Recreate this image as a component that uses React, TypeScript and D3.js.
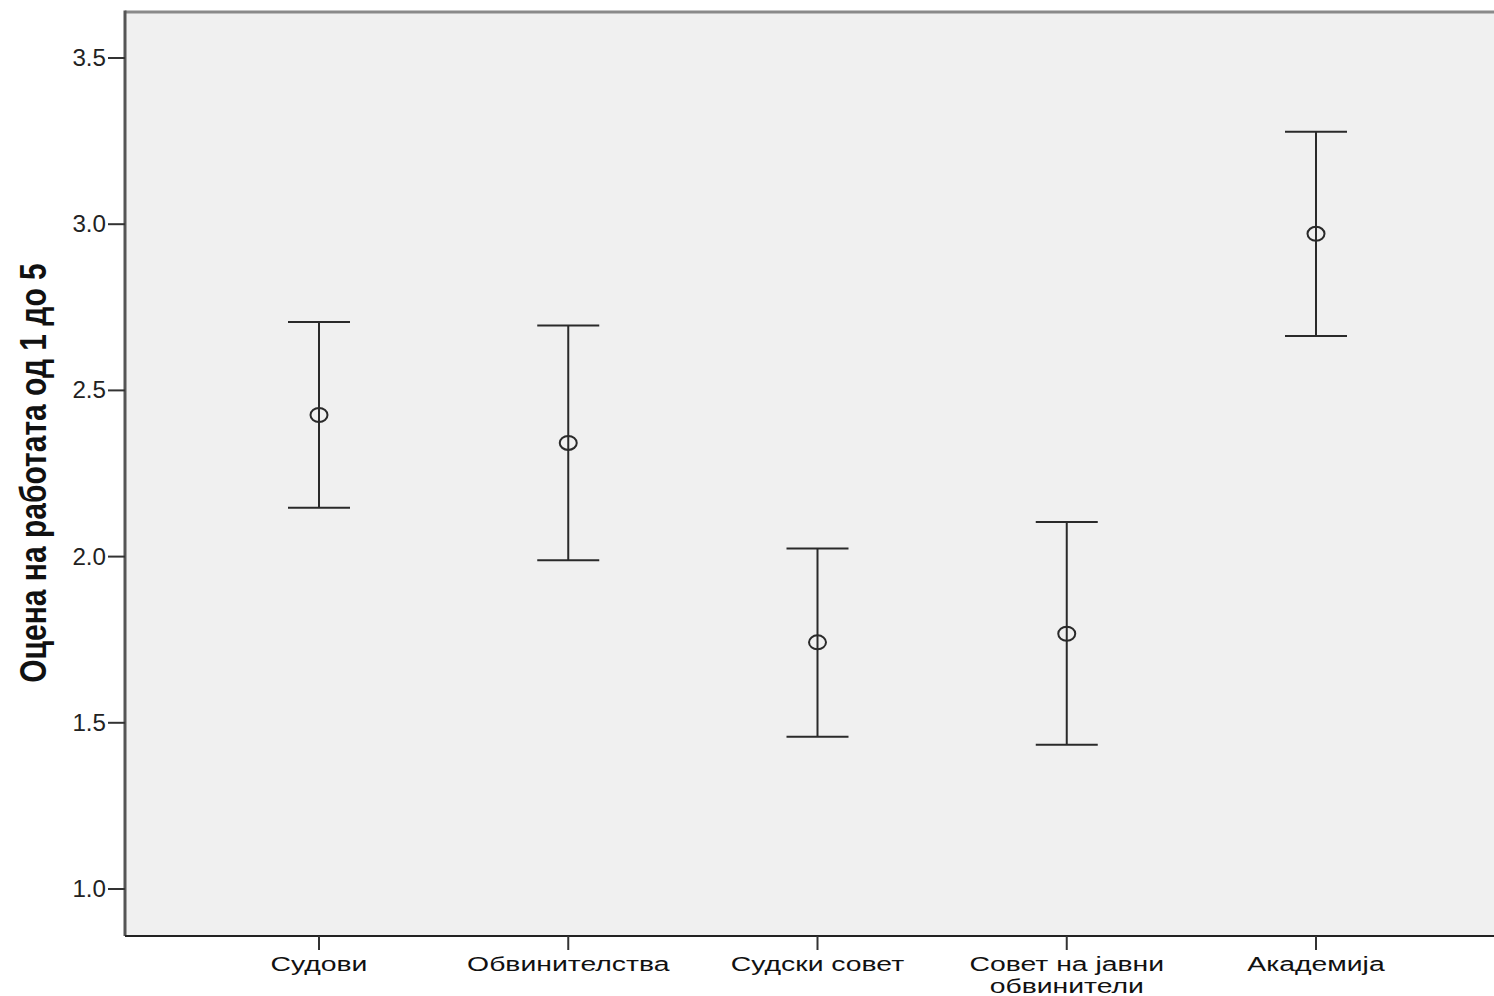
import React from "react";
import * as d3 from "d3";

const categories = ["Судови", "Обвинителства", "Судски совет", "Совет на јавни обвинители", "Академија"];
const categoryLines = [["Судови"], ["Обвинителства"], ["Судски совет"], ["Совет на јавни", "обвинители"], ["Академија"]];
const means = [2.426, 2.342, 1.742, 1.768, 2.971];
const upper = [2.706, 2.695, 2.024, 2.104, 3.278];
const lower = [2.147, 1.989, 1.458, 1.434, 2.664];
const yTicks = [1.0, 1.5, 2.0, 2.5, 3.0, 3.5];
const yTitle = "Оцена на работата од 1 до 5";

const W = 1494;
const H = 996;
const frame = { left: 125, top: 12, right: 1512, bottom: 936 };
const FONT = "'Liberation Sans', Arial, sans-serif";

export default function App() {
  const y = d3.scaleLinear().domain([1.0, 3.5]).range([889, 58]);
  const x = d3.scalePoint<string>().domain(categories).range([319, 1316]);
  const capHalf = 31;

  return (
    <svg
      width={W}
      height={H}
      style={{ position: "absolute", left: 0, top: 0, background: "#fff" }}
      fontFamily={FONT}
    >
      {/* plot background */}
      <rect
        x={frame.left}
        y={frame.top}
        width={frame.right - frame.left}
        height={frame.bottom - frame.top}
        fill="#f0f0f0"
      />
      {/* frame */}
      <line x1={frame.left} x2={frame.right} y1={frame.top} y2={frame.top} stroke="#8a8a8a" strokeWidth={3} />
      <line x1={frame.left} x2={frame.left} y1={frame.top - 1.5} y2={frame.bottom} stroke="#555" strokeWidth={3} />
      <line x1={frame.left} x2={frame.right} y1={frame.bottom} y2={frame.bottom} stroke="#222" strokeWidth={2} />

      {/* y ticks */}
      {yTicks.map((t) => (
        <g key={t}>
          <line x1={108} x2={frame.left} y1={y(t)} y2={y(t)} stroke="#333" strokeWidth={2} />
          <text
            transform={`translate(106,${y(t) + 8}) scale(1.05,1)`}
            textAnchor="end"
            fontSize={23}
            fill="#222"
          >
            {d3.format(".1f")(t)}
          </text>
        </g>
      ))}

      {/* x ticks and labels */}
      {categories.map((c, i) => (
        <g key={c}>
          <line x1={x(c)} x2={x(c)} y1={frame.bottom} y2={frame.bottom + 14} stroke="#333" strokeWidth={2} />
          {categoryLines[i].map((ln, j) => (
            <text
              key={j}
              transform={`translate(${x(c)},${971 + j * 22}) scale(1.35,1)`}
              textAnchor="middle"
              fontSize={21}
              fill="#111"
            >
              {ln}
            </text>
          ))}
        </g>
      ))}

      {/* error bars */}
      {categories.map((c, i) => {
        const cx = x(c) as number;
        return (
          <g key={"eb" + c} stroke="#2a2a2a" fill="none">
            <line x1={cx} x2={cx} y1={y(upper[i])} y2={y(lower[i])} strokeWidth={2} />
            <line x1={cx - capHalf} x2={cx + capHalf} y1={y(upper[i])} y2={y(upper[i])} strokeWidth={2} />
            <line x1={cx - capHalf} x2={cx + capHalf} y1={y(lower[i])} y2={y(lower[i])} strokeWidth={2} />
            <ellipse cx={cx} cy={y(means[i])} rx={8.5} ry={7} fill="none" strokeWidth={2} />
          </g>
        );
      })}

      {/* y title */}
      <text
        transform={`translate(46,473) scale(1.25,1) rotate(-90)`}
        textAnchor="middle"
        fontSize={30}
        fontWeight="bold"
        fill="#111"
      >
        {yTitle}
      </text>
    </svg>
  );
}
